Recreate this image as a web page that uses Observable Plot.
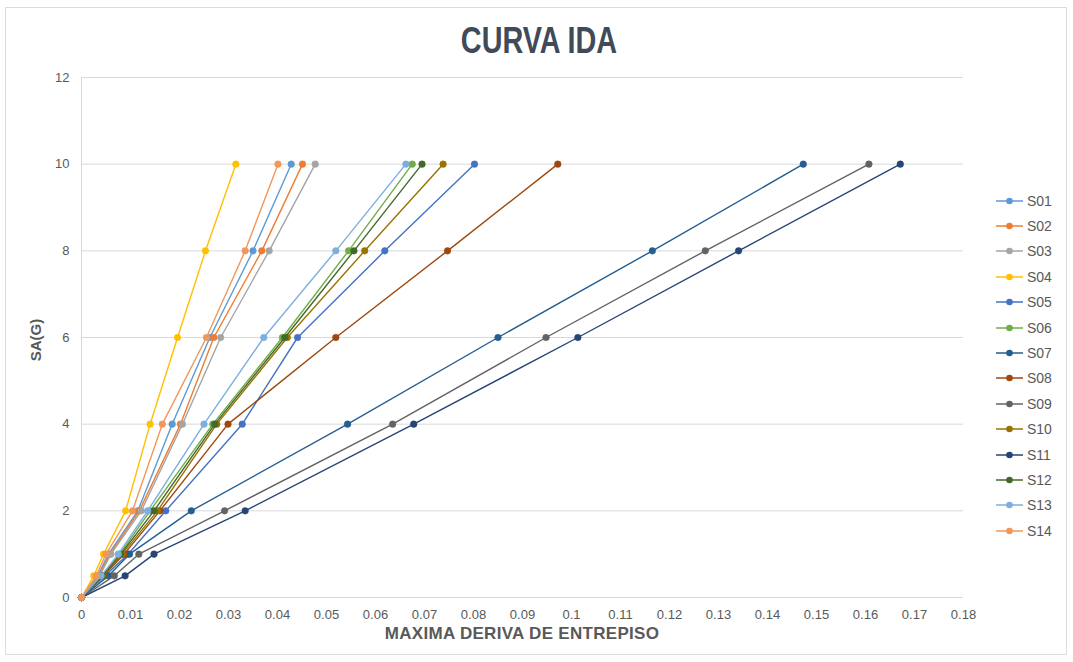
<!DOCTYPE html>
<html>
<head>
<meta charset="utf-8">
<script src="https://cdn.jsdelivr.net/npm/d3@7"></script>
<script src="https://cdn.jsdelivr.net/npm/@observablehq/plot@0.6"></script>
<style>
  body { margin: 0; background: #fff; }
  #wrap { position: relative; width: 1073px; height: 662px; background: #fff; overflow: hidden;
          font-family: "Liberation Sans", Arial, sans-serif; }
  #frame { position: absolute; left: 5px; top: 7px; width: 1062px; height: 648px; border: 1px solid #dcdcdc; box-sizing: border-box; }
  #title { position: absolute; left: 539px; top: 20px; transform: translateX(-50%) scaleX(0.8); font-size: 36px; font-weight: bold; color: #414a59; white-space: nowrap; }
  #ylab { position: absolute; left: 35px; top: 340px; transform: translate(-50%, -50%) rotate(-90deg); font-size: 15px; font-weight: bold; color: #595959; white-space: nowrap; }
  #xlab { position: absolute; left: 522px; top: 634px; transform: translate(-50%, -50%); font-size: 17px; letter-spacing: 0.3px; font-weight: bold; color: #595959; white-space: nowrap; }
  #legend { position: absolute; left: 996px; top: 188px; }
  .li { height: 25.4px; display: flex; align-items: center; font-size: 14px; color: #595959; }
  .li svg { margin-right: 4px; }
  #plot { position: absolute; left: 0; top: 0; }
</style>
</head>
<body>
<div id="wrap">
  <div id="frame"></div>
  <div id="plot"></div>
  <div id="title">CURVA IDA</div>
  <div id="ylab">SA(G)</div>
  <div id="xlab">MAXIMA DERIVA DE ENTREPISO</div>
  <div id="legend"></div>
</div>
<script>
// Spectral acceleration levels (y) shared by all series
const saLevels = [0, 0.5, 1, 2, 4, 6, 8, 10];

// Maximum interstory drift (x) per series, one value per level above
const S01 = [0, 0.0033, 0.0055, 0.0115, 0.0185, 0.0262, 0.0350, 0.0428];
const S02 = [0, 0.0035, 0.0058, 0.0118, 0.0202, 0.0270, 0.0368, 0.0451];
const S03 = [0, 0.0037, 0.0060, 0.0122, 0.0206, 0.0284, 0.0383, 0.0477];
const S04 = [0, 0.0025, 0.0045, 0.0090, 0.0140, 0.0196, 0.0253, 0.0315];
const S05 = [0, 0.0048, 0.0095, 0.0172, 0.0328, 0.0441, 0.0619, 0.0802];
const S06 = [0, 0.0042, 0.0078, 0.0140, 0.0268, 0.0410, 0.0545, 0.0675];
const S07 = [0, 0.0055, 0.0098, 0.0224, 0.0543, 0.0850, 0.1165, 0.1473];
const S08 = [0, 0.0045, 0.0087, 0.0160, 0.0299, 0.0519, 0.0747, 0.0972];
const S09 = [0, 0.0067, 0.0117, 0.0292, 0.0635, 0.0948, 0.1273, 0.1607];
const S10 = [0, 0.0044, 0.0083, 0.0155, 0.0276, 0.0420, 0.0578, 0.0738];
const S11 = [0, 0.0089, 0.0148, 0.0334, 0.0678, 0.1013, 0.1341, 0.1671];
const S12 = [0, 0.0043, 0.0080, 0.0148, 0.0272, 0.0415, 0.0556, 0.0695];
const S13 = [0, 0.0040, 0.0075, 0.0135, 0.0250, 0.0372, 0.0519, 0.0662];
const S14 = [0, 0.0030, 0.0050, 0.0104, 0.0165, 0.0255, 0.0334, 0.0401];

const seriesNames = ["S01","S02","S03","S04","S05","S06","S07","S08","S09","S10","S11","S12","S13","S14"];
const seriesValues = [S01,S02,S03,S04,S05,S06,S07,S08,S09,S10,S11,S12,S13,S14];
const seriesColors = ["#5B9BD5","#ED7D31","#A5A5A5","#FFC000","#4472C4","#70AD47","#255E91","#9E480E","#636363","#997300","#264478","#43682B","#7CAFDD","#F1975A"];

const xTicks = [0,0.01,0.02,0.03,0.04,0.05,0.06,0.07,0.08,0.09,0.1,0.11,0.12,0.13,0.14,0.15,0.16,0.17,0.18];
const yTicks = [0,2,4,6,8,10,12];

const rows = seriesNames.flatMap((name, i) =>
  saLevels.map((sa, j) => ({serie: name, drift: seriesValues[i][j], sa}))
);

const seriesMarks = seriesNames.flatMap(name => {
  const d = rows.filter(r => r.serie === name);
  return [
    Plot.line(d, {x: "drift", y: "sa", stroke: "serie", strokeWidth: 1.4}),
    Plot.dot(d, {x: "drift", y: "sa", fill: "serie", r: 3.3, stroke: "serie", strokeWidth: 0.5})
  ];
});

const chart = Plot.plot({
  width: 1073,
  height: 662,
  marginLeft: 81,
  marginRight: 110,
  marginTop: 77,
  marginBottom: 65,
  style: {fontFamily: "'Liberation Sans', Arial, sans-serif", fontSize: "13px", color: "#595959", background: "transparent"},
  x: {domain: [0, 0.18], label: null},
  y: {domain: [0, 12], label: null},
  color: {domain: seriesNames, range: seriesColors},
  marks: [
    Plot.gridY(yTicks, {stroke: "#d9d9d9", strokeOpacity: 1}),
    Plot.ruleX([0], {stroke: "#d9d9d9"}),
    Plot.axisX(xTicks, {tickSize: 0, tickPadding: 12, tickFormat: d => d === 0 ? "0" : String(+d.toFixed(2)), fill: "#595959", fontSize: 13}),
    Plot.axisY(yTicks, {tickSize: 0, tickPadding: 12, fill: "#595959", fontSize: 13}),
    ...seriesMarks
  ]
});
document.getElementById("plot").appendChild(chart);

// Legend
const legend = document.getElementById("legend");
seriesNames.forEach((name, i) => {
  const c = seriesColors[i];
  const div = document.createElement("div");
  div.className = "li";
  div.innerHTML = `<svg width="27" height="10"><line x1="0" y1="5" x2="27" y2="5" stroke="${c}" stroke-width="1.5"/><circle cx="13.5" cy="5" r="3.3" fill="${c}"/></svg><span>${name}</span>`;
  legend.appendChild(div);
});
</script>
</body>
</html>
